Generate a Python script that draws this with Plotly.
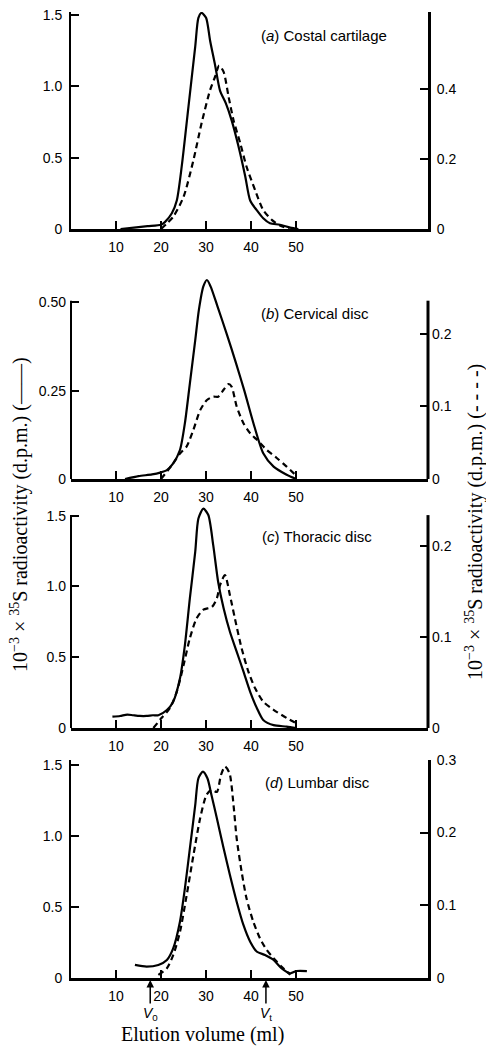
import plotly.graph_objects as go

W, H = 486, 1046

# ---------------- data (elution volume in ml, radioactivity) ----------------
a_x_solid = [11, 14, 17, 20, 20.9, 22.4, 23.5, 24.6, 26.1, 27.6, 28.3, 29.0, 30.0, 30.9, 32.0, 33.1,
             34.4, 35.7, 37.2, 38.7, 39.8, 41.3, 42.7, 44.2, 46.4, 48.7, 50.5]
a_solid = [0.0, 0.01, 0.02, 0.03, 0.05, 0.11, 0.20, 0.44, 0.86, 1.28, 1.48, 1.515, 1.48, 1.32, 1.15, 0.97,
           0.88, 0.76, 0.58, 0.37, 0.20, 0.13, 0.075, 0.04, 0.03, 0.01, 0.0]
a_x_dash = [20, 22.7, 25, 27.2, 29, 30.9, 32, 32.9, 33.9, 35, 36.1, 37.6, 39, 40.9, 42.7, 44.6, 46.4, 48.5]
a_dash = [0.0, 0.035, 0.092, 0.197, 0.302, 0.397, 0.435, 0.467, 0.449, 0.378, 0.311, 0.245, 0.178, 0.111,
          0.054, 0.026, 0.01, 0.0]

b_x_solid = [12, 15, 18, 19.8, 21.3, 22.7, 24.2, 25.3, 26.4, 27.6, 28.4, 29.4, 30.2, 31.0, 32.5, 34.6,
             36.6, 38.5, 40.7, 42.7, 45, 47.9, 50]
b_solid = [0.0, 0.008, 0.013, 0.018, 0.025, 0.044, 0.082, 0.158, 0.27, 0.393, 0.478, 0.545, 0.563, 0.545,
           0.49, 0.41, 0.33, 0.25, 0.15, 0.073, 0.035, 0.012, 0.0]
b_x_dash = [20, 22.7, 24.2, 25.7, 27.2, 28.7, 30.2, 31.6, 32.7, 33.9, 35.0, 35.7, 36.8, 38.3, 39.8, 41.3,
            43.5, 45.7, 47.9, 49.8]
b_dash = [0.0, 0.0216, 0.035, 0.045, 0.068, 0.095, 0.109, 0.1135, 0.1135, 0.123, 0.131, 0.127, 0.10, 0.077,
          0.063, 0.054, 0.040, 0.029, 0.017, 0.006]

c_x_solid = [9.2, 10.9, 12.5, 13.8, 15.3, 16.8, 18.2, 19.4, 21.3, 22.7, 24.2, 25.3, 26.4, 27.6, 28.3, 29.4,
             30.5, 31.6, 32.7, 33.9, 35.3, 36.8, 38.3, 39.8, 41.3, 42.7, 45, 47.9, 50]
c_solid = [0.08, 0.085, 0.095, 0.09, 0.085, 0.085, 0.09, 0.09, 0.127, 0.186, 0.35, 0.586, 0.916, 1.246,
           1.48, 1.55, 1.505, 1.29, 1.03, 0.846, 0.68, 0.54, 0.40, 0.256, 0.14, 0.057, 0.02, 0.01, 0.0]
c_x_dash = [18.3, 20.1, 22, 23.5, 25, 26.4, 27.9, 29.4, 31.3, 32.4, 33.1, 34.2, 35.3, 36.4, 37.9, 39.4,
            40.9, 42.7, 45, 47.9, 50.1]
c_dash = [0.0, 0.011, 0.022, 0.04, 0.069, 0.0986, 0.1205, 0.13, 0.133, 0.1425, 0.157, 0.168, 0.146, 0.1205,
          0.0876, 0.062, 0.0436, 0.029, 0.02, 0.011, 0.005]

d_x_solid = [14.2, 16.8, 19.4, 21.3, 22.7, 24.2, 25.3, 26.4, 27.6, 28.3, 29.3, 30.3, 31.2, 32.4, 33.9,
             35.3, 36.8, 38.3, 39.8, 41.3, 43.1, 45, 46.8, 48.7, 50.1, 52.4]
d_solid = [0.09, 0.078, 0.09, 0.125, 0.207, 0.395, 0.63, 0.91, 1.218, 1.406, 1.453, 1.406, 1.288, 1.124,
           0.912, 0.724, 0.536, 0.372, 0.254, 0.183, 0.16, 0.125, 0.066, 0.031, 0.047, 0.047]
d_x_dash = [19.4, 21.3, 22.7, 24.2, 25.7, 27.2, 28.7, 30.1, 31.2, 32.4, 33.3, 34.2, 35.2, 36.1, 36.8,
            37.9, 39, 40.5, 42, 43.5, 45, 46.8, 48.7]
d_dash = [0.004, 0.013, 0.031, 0.063, 0.114, 0.169, 0.22, 0.252, 0.259, 0.256, 0.279, 0.291, 0.282, 0.238,
          0.192, 0.146, 0.109, 0.077, 0.054, 0.038, 0.027, 0.015, 0.004]

panel_labels = ["(<i>a</i>) Costal cartilage", "(<i>b</i>) Cervical disc",
                "(<i>c</i>) Thoracic disc", "(<i>d</i>) Lumbar disc"]
x_ticks = [10, 20, 30, 40, 50]
x_ticktext = ["10", "20", "30", "40", "50"]
left_ticks = [[0, 0.5, 1.0, 1.5], [0, 0.25, 0.5], [0, 0.5, 1.0, 1.5], [0, 0.5, 1.0, 1.5]]
left_ticktext = [["0", "0.5", "1.0", "1.5"], ["0", "0.25", "0.50"], ["0", "0.5", "1.0", "1.5"],
                 ["0", "0.5", "1.0", "1.5"]]
right_ticks = [[0, 0.2, 0.4], [0, 0.1, 0.2], [0, 0.1, 0.2], [0, 0.1, 0.2, 0.3]]
right_ticktext = [["0", "0.2", "0.4"], ["0", "0.1", "0.2"], ["0", "0.1", "0.2"], ["0", "0.1", "0.2", "0.3"]]
v0_ml, vt_ml = 17.6, 43.3

# ---------------- layout geometry (pixels) ----------------
x_left_px, x_right_px = 71, 428
x_max = 79.3
# (zero px, plot-area top px, left range top, right range top, left axis-line top, right axis-line top)
panels_geom = [(229, 12, 1.521, 0.620, None, None),
               (479, 274, 0.580, 0.2827, 0.5046, 0.2459),
               (728, 503, 1.590, 0.2473, 1.505, 0.234),
               (977.7, 760, 1.535, 0.300, None, None)]

solids = [(a_x_solid, a_solid), (b_x_solid, b_solid), (c_x_solid, c_solid), (d_x_solid, d_solid)]
dashes = [(a_x_dash, a_dash), (b_x_dash, b_dash), (c_x_dash, c_dash), (d_x_dash, d_dash)]

fig = go.Figure()
sans = "Liberation Sans, Arial, sans-serif"
tickfont = dict(family=sans, size=14, color="black")
layout = dict(template="none", width=W, height=H,
              margin=dict(l=0, r=0, t=0, b=0, pad=0, autoexpand=False),
              paper_bgcolor="white", plot_bgcolor="rgba(0,0,0,0)", showlegend=False)
shapes = []

for i in range(4):
    n = i + 1
    xname = "x" if n == 1 else f"x{n}"
    yname = "y" if n == 1 else f"y{n}"
    ry = 4 + n
    ryname = f"y{ry}"
    zero_px, top_px, ltop, rtop, lline, rline = panels_geom[i]
    dom_y = [1 - zero_px / H, 1 - top_px / H]
    sx, sy = solids[i]
    dx, dy = dashes[i]
    fig.add_trace(go.Scatter(x=sx, y=sy, mode="lines", xaxis=xname, yaxis=yname,
                             line=dict(color="black", width=2.2, shape="spline", smoothing=0.7)))
    fig.add_trace(go.Scatter(x=dx, y=dy, mode="lines", xaxis=xname, yaxis=ryname,
                             line=dict(color="black", width=2.2, dash="6px,4px", shape="spline",
                                       smoothing=0.7)))
    common = dict(ticks="inside", ticklen=8, tickwidth=1.5, tickcolor="black", tickfont=tickfont,
                  showgrid=False, zeroline=False, automargin=False, linecolor="black")
    layout["xaxis" if n == 1 else f"xaxis{n}"] = dict(
        domain=[x_left_px / W, x_right_px / W], range=[0, x_max], anchor=yname,
        showline=True, linewidth=3, tickvals=x_ticks, ticktext=x_ticktext, ticklabelstandoff=3, **common)
    layout["yaxis" if n == 1 else f"yaxis{n}"] = dict(
        domain=dom_y, range=[0, ltop], anchor=xname, showline=lline is None, linewidth=2,
        tickvals=left_ticks[i], ticktext=left_ticktext[i], ticklabelstandoff=4, **common)
    layout[f"yaxis{ry}"] = dict(
        overlaying=yname, side="right", anchor=xname, range=[0, rtop], showline=rline is None,
        linewidth=3, tickvals=right_ticks[i], ticktext=right_ticktext[i], ticklabelstandoff=3, **common)
    if lline is not None:
        shapes.append(dict(type="line", xref=f"{xname} domain", yref=yname, x0=0, x1=0, y0=0, y1=lline,
                           line=dict(color="black", width=2)))
        shapes.append(dict(type="line", xref=f"{xname} domain", yref=ryname, x0=1, x1=1, y0=0, y1=rline,
                           line=dict(color="black", width=3)))

layout["shapes"] = shapes
fig.update_layout(**layout)

label_pos = [(259, 35), (259, 313), (260, 536), (263, 782)]
for (px, py), txt in zip(label_pos, panel_labels):
    fig.add_annotation(x=px / W, y=1 - py / H, xref="paper", yref="paper", text=txt, showarrow=False,
                       xanchor="left", yanchor="middle", font=dict(family=sans, size=15, color="black"))

serif = "Liberation Serif, Times New Roman, serif"
fig.add_annotation(x=19 / W, y=1 - 515 / H, xref="paper", yref="paper", textangle=-90, showarrow=False,
                   text="10<sup>\u22123</sup> \u00d7 <sup>35</sup>S radioactivity (d.p.m.) (\u2014\u2014)",
                   font=dict(family=serif, size=20, color="black"), xanchor="center", yanchor="middle")
fig.add_annotation(x=474 / W, y=1 - 522 / H, xref="paper", yref="paper", textangle=-90, showarrow=False,
                   text="10<sup>\u22123</sup> \u00d7 <sup>35</sup>S radioactivity (d.p.m.) (- - - -)",
                   font=dict(family=serif, size=20, color="black"), xanchor="center", yanchor="middle")
fig.add_annotation(x=202 / W, y=1 - 1034 / H, xref="paper", yref="paper", showarrow=False,
                   text="Elution volume (ml)", font=dict(family=serif, size=20, color="black"),
                   xanchor="center", yanchor="middle")

for v, lab in [(v0_ml, "<i>V</i><sub>0</sub>"), (vt_ml, "<i>V</i><sub>t</sub>")]:
    fig.add_annotation(x=v, y=1 - 980 / H, xref="x4", yref="paper", text=lab, showarrow=True,
                       arrowhead=2, arrowsize=1, arrowwidth=1.5, arrowcolor="black", ax=0, ay=34,
                       standoff=0, font=dict(family=sans, size=14, color="black"))

fig.write_html("out.html", config={"displayModeBar": False},
               post_script="document.body.style.margin='0';document.body.style.overflow='hidden';")
